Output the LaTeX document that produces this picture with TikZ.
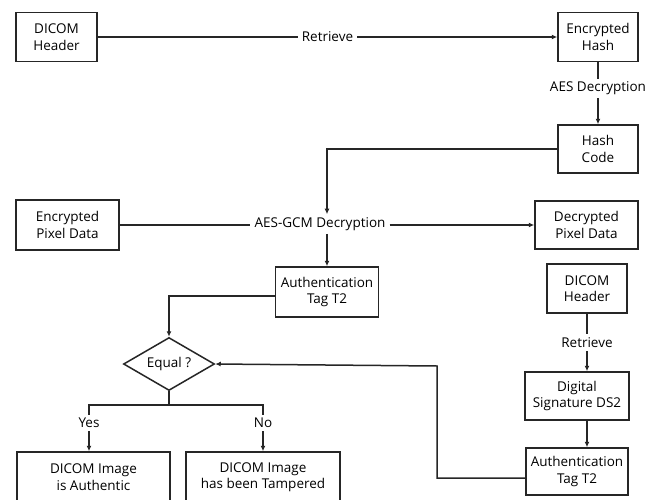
\documentclass[tikz,border=0pt]{standalone}
\usepackage{fontspec}
\setmainfont{Open Sans}
\usetikzlibrary{shapes.geometric,arrows.meta}
\begin{document}
\begin{tikzpicture}[x=1pt,y=-1pt,
  font=\fontsize{13.5}{16.5}\selectfont,
  every node/.style={text=black},
  box/.style={draw=black!85,line width=1.5pt,align=center,inner sep=0pt},
  lbl/.style={fill=white,inner xsep=4pt,inner ysep=3pt},
  link/.style={draw=black!85,line width=1.5pt},
  arr/.style={link,-{Latex[length=5.5pt,width=5pt]}}]
\useasboundingbox (0,0) rectangle (649,499);
\clip (0,0) rectangle (649,499);
\fill[white] (0,0) rectangle (649,499);

% upper chain
\node[box,minimum width=81pt,minimum height=49pt] (dh1) at (56.5,37) {DICOM\\Header};
\node[box,minimum width=80pt,minimum height=49pt] (eh) at (598,37) {Encrypted\\Hash};
\node[box,minimum width=80pt,minimum height=48pt] (hc) at (598,149) {Hash\\Code};
\node[box,minimum width=103pt,minimum height=50pt] (epd) at (67.5,225) {Encrypted\\Pixel Data};
\node[box,minimum width=103pt,minimum height=48pt] (dpd) at (586.5,225) {Decrypted\\Pixel Data};
\node[lbl] (gcm) at (320,224) {AES-GCM Decryption};
\node[box,minimum width=103pt,minimum height=50pt] (at1) at (327,292) {Authentication\\Tag T2};

% comparison
\node[draw=black!85,line width=1.5pt,diamond,aspect=1.75,inner sep=1pt,minimum width=91pt,minimum height=53pt] (eq) at (169,364) {Equal ?};
\coordinate (fork) at (169,405);
\node (yes) at (89,423) {Yes};
\node (no) at (263,423) {No};
\node[box,minimum width=153pt,minimum height=50pt] (auth) at (93.5,477) {DICOM Image\\is Authentic};
\node[box,minimum width=154pt,minimum height=50pt] (tamp) at (263,477) {DICOM Image\\has been Tampered};

% signature chain
\node[box,minimum width=80pt,minimum height=49pt] (dh2) at (587,288.5) {DICOM\\Header};
\node[box,minimum width=104pt,minimum height=48pt] (ds2) at (577,396) {Digital\\Signature DS2};
\node[box,minimum width=102pt,minimum height=47pt] (at2) at (577,471.5) {Authentication\\Tag T2};

% connectors
\draw[arr] (dh1) -- node[lbl] {Retrieve} (eh);
\draw[arr] (eh) -- node[lbl,pos=0.42] {AES Decryption} (hc);
\draw[arr] (hc.west) -| (gcm.north -| at1.north);
\draw[link] (epd.east) -- (gcm.west |- epd.east);
\draw[arr] (gcm.east |- dpd.west) -- (dpd.west);
\draw[arr] (gcm.south -| at1.north) -- (at1.north);
\draw[arr] ([yshift=-4pt]at1.west) -| (eq.north);
\draw[link] (eq.south) -- (fork);
\draw[link] (yes.north) |- (fork) -| (no.north);
\draw[arr] (yes.south) -- (yes.south |- auth.north);
\draw[arr] (no.south) -- (no.south |- tamp.north);
\draw[arr] (dh2.south) -- node[lbl] {Retrieve} (dh2.south |- ds2.north);
\draw[arr] (ds2.south -| dh2.south) -- (dh2.south |- at2.north);
\draw[arr] ([yshift=-6.5pt]at2.west) -| (437,366) -- (eq.east);
\end{tikzpicture}
\end{document}
